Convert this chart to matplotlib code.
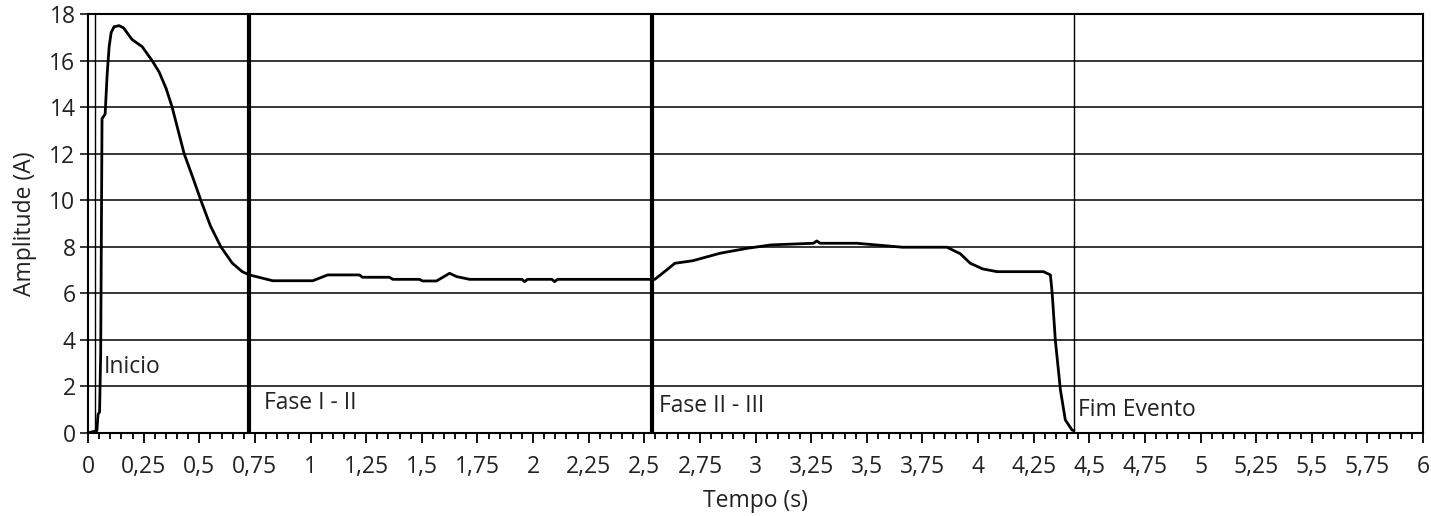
import matplotlib
matplotlib.use("Agg")
import matplotlib.pyplot as plt
from matplotlib.ticker import MultipleLocator, FuncFormatter

plt.rcParams["font.family"] = ["Open Sans", "DejaVu Sans"]

# curva de corrente
tempo = [0.0, 0.02, 0.04, 0.045, 0.052, 0.057, 0.063, 0.077, 0.086, 0.095,
         0.104, 0.117, 0.14, 0.16, 0.198, 0.243, 0.288, 0.32, 0.351, 0.378,
         0.405, 0.432, 0.47, 0.507, 0.55, 0.597, 0.648, 0.693, 0.725, 0.78,
         0.83, 1.01, 1.077, 1.22, 1.233, 1.355, 1.37, 1.49, 1.503, 1.566,
         1.625, 1.656, 1.715, 1.95, 1.962, 1.975, 2.085, 2.097, 2.11, 2.547,
         2.6, 2.637, 2.718, 2.84, 2.96, 3.07, 3.26, 3.275, 3.29, 3.455,
         3.66, 3.86, 3.92, 3.965, 4.02, 4.085, 4.294, 4.325, 4.333, 4.347,
         4.37, 4.392, 4.422, 4.43]
amplitude = [0.0, 0.05, 0.1, 0.8, 0.9, 3.4, 13.5, 13.7, 15.4, 16.6,
             17.2, 17.45, 17.5, 17.4, 16.9, 16.6, 16.0, 15.5, 14.8, 14.0,
             13.0, 12.0, 11.0, 10.0, 8.9, 8.0, 7.3, 6.93, 6.79, 6.66,
             6.54, 6.54, 6.79, 6.79, 6.69, 6.69, 6.6, 6.6, 6.53, 6.53,
             6.86, 6.72, 6.6, 6.6, 6.5, 6.6, 6.6, 6.5, 6.6, 6.6,
             7.0, 7.29, 7.4, 7.72, 7.93, 8.08, 8.15, 8.25, 8.15, 8.15,
             7.98, 7.98, 7.7, 7.29, 7.05, 6.93, 6.93, 6.79, 6.0, 4.0,
             1.85, 0.56, 0.13, 0.1]

marcos = [0.03, 0.723, 2.535, 4.43]
marcos_nome = ["Inicio", "Fase I - II", "Fase II - III", "Fim Evento"]
marcos_espessura = [1.0, 3.0, 3.0, 1.0]
rotulo_x = [0.072, 0.79, 2.565, 4.45]
rotulo_y = [2.85, 1.3, 1.15, 1.0]

fig = plt.figure(figsize=(14.31, 5.16), dpi=100)
ax = fig.add_axes([0.0615, 0.1609, 0.933, 0.812])

for y in range(2, 18, 2):
    ax.axhline(y, color="black", lw=1.1, zorder=1)

for x, lw in zip(marcos, marcos_espessura):
    ax.axvline(x, color="black", lw=lw, zorder=2)

ax.plot(tempo, amplitude, color="black", lw=2.0, zorder=3)

for x, y, nome in zip(rotulo_x, rotulo_y, marcos_nome):
    ax.text(x, y, nome, fontsize=16.5, color="#222222", va="center", ha="left")

ax.set_xlim(0, 6)
ax.set_ylim(0, 18)
ax.xaxis.set_major_locator(MultipleLocator(0.25))
ax.xaxis.set_minor_locator(MultipleLocator(0.05))
ax.yaxis.set_major_locator(MultipleLocator(2))
ax.xaxis.set_major_formatter(FuncFormatter(lambda v, p: ("%g" % v).replace(".", ",")))

ax.tick_params(axis="x", which="major", length=7, width=1.3, labelsize=16.5,
               colors="black", labelcolor="#222222", pad=9)
ax.tick_params(axis="x", which="minor", length=4, width=1.3)
ax.tick_params(axis="y", which="major", length=6, width=1.1, labelsize=16.5,
               labelcolor="#222222", pad=3)

for s in ax.spines.values():
    s.set_linewidth(1.5)

ax.set_xlabel("Tempo (s)", fontsize=16.5, color="#222222", labelpad=7)
ax.set_ylabel("Amplitude (A)", fontsize=16.5, color="#222222", labelpad=9)

fig.savefig("out.png", dpi=100)
